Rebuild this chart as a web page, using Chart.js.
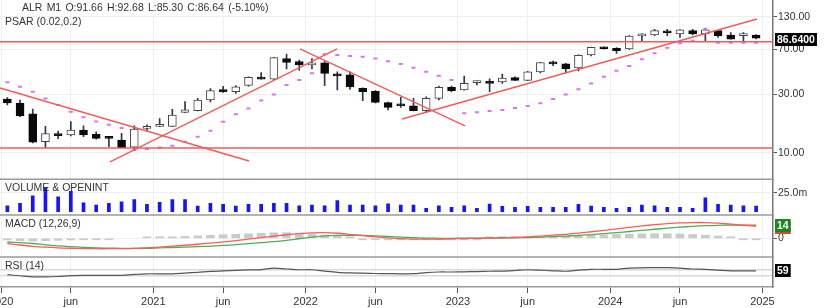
<!DOCTYPE html>
<html>
<head>
<meta charset="utf-8">
<script src="https://cdn.jsdelivr.net/npm/chart.js@4.4.1/dist/chart.umd.min.js"></script>
<style>
  html, body { margin:0; padding:0; background:#fff; }
  #wrap { width:830px; height:308px; }
</style>
</head>
<body>
<div id="wrap"><canvas id="js-alr-chart" width="830" height="308"></canvas></div>
<script>
  /* ━━━━  DATA  (monthly, Jan 2020 → Dec 2024)  ━━━━ */
  const OPENS  = [27.5,25.4,20.8,12.3,14.0,14.0,15.3,14.1,13.5,12.7, 11.1,15.8,16.4,16.4,21.4,22.1,27.0,32.6,31.6,35.6,
                  41.2,39.9,59.1,55.8,52.3,54.3,43.8,43.3,33.7,31.8, 25.7,24.4,24.2,22.1,27.8,34.3,32.6,37.5,38.4,38.0,
                  41.3,39.1,45.9,54.8,53.3,49.5,63.1,73.0,71.7,70.7, 90.3,92.0,99.0,94.0,100.0,94.0,100.0,92.0,90.9,91.66];
  const HIGHS  = [28.2,27.0,22.7,16.4,15.0,18.0,16.6,14.8,13.6,14.4, 16.6,16.9,19.0,22.6,26.2,27.8,33.5,35.0,35.5,41.8,
                  45.2,60.4,64.3,57.4,59.1,55.8,45.9,45.9,33.9,32.2, 25.9,28.4,27.8,28.7,35.1,35.1,42.3,38.8,40.3,44.0,
                  41.7,46.3,55.0,56.2,53.9,63.3,73.3,73.5,72.4,91.0, 94.5,102.5,102.5,102.0,102.5,104.5,100.5,96.5,96.5,92.68];
  const LOWS   = [24.6,19.7,12.0,11.0,13.0,13.7,13.5,12.9,11.2,11.0, 10.5,15.1,16.3,16.3,21.3,22.0,26.0,31.2,30.5,35.1,
                  39.9,39.7,48.5,47.1,48.5,35.4,32.6,33.0,26.6,25.5, 22.4,23.5,22.0,21.3,27.0,31.6,32.5,35.9,31.6,36.9,
                  38.9,38.9,45.0,51.5,45.0,46.8,62.0,70.4,65.0,70.0, 81.0,91.0,91.0,87.9,92.0,81.0,87.9,85.0,81.0,85.30];
  const CLOSES = [25.5,20.0,12.2,14.3,13.8,15.3,14.0,13.1,13.1,11.0, 15.6,16.1,16.6,20.3,22.4,27.0,32.3,31.6,34.6,41.4,
                  40.0,60.0,54.8,52.3,54.3,44.6,42.5,34.6,31.6,25.8, 23.5,24.2,22.1,27.8,34.3,32.2,36.9,38.4,36.9,40.8,
                  39.1,45.9,54.8,53.3,48.5,62.7,73.0,71.0,68.4,90.3, 94.0,99.8,96.0,101.2,94.0,101.2,90.3,85.1,91.3,86.64];
  const PSAR   = [37.7,34.6,31.6,27.8,24.6,21.6,19.5,18.0,16.9,15.9, 10.5,10.7,11.0,11.4,12.3,13.5,15.1,17.9,20.6,23.0,
                  26.8,30.0,35.8,39.4,44.7,64.0,63.1,62.0,60.9,59.1, 56.2,53.3,49.6,45.9,42.7,39.4,21.0,21.4,21.9,22.4,
                  23.2,24.1,25.4,27.5,30.0,33.1,36.9,41.9,46.9,51.3, 58.1,65.1,72.3,78.6,82.6,103.5,79.5,79.5,79.5,79.5];
  const VOLUME = [7.9,11,21,31.6,19.7,26.8,11.8,8.8,11,13, 16,9.6,12.3,16,16,7.5,11,9.6,7.5,9.6,
                  9.6,11,11,7.9,8.8,7.9,14.5,8.8,8.8,7.9, 10.5,8.8,8.8,4.4,7.9,5.7,7.9,4.4,10,7,
                  5.7,7,5.7,5.7,5.7,9.6,7.5,5.7,4.4,5.7, 8.8,7.9,5.7,5.7,4.4,18.4,9.6,8.8,7.9,7.5];   // millions
  const MACD   = [-5.8,-7.2,-8.6,-9.6,-10.3,-10.7,-11.0,-11.2,-11.2,-11.1, -10.8,-10.2,-9.4,-8.5,-7.5,-6.4,-5.2,-3.9,-2.5,-1.0,
                  0.6,2.2,3.8,5.0,5.8,6.0,5.4,4.2,2.8,1.6, 0.5,-0.3,-0.8,-1.0,-0.9,-0.6,-0.3,0.0,0.3,0.6,
                  1.0,1.6,2.4,3.3,4.3,5.5,7.0,8.6,10.2,11.8, 13.3,14.6,15.7,16.5,16.9,16.9,16.3,15.1,14.0,13.2];
  const SIGNAL = [-4.0,-4.7,-5.6,-7.0,-8.1,-8.9,-9.7,-10.3,-10.6,-10.8, -10.8,-10.7,-10.3,-9.9,-9.5,-9.0,-8.4,-7.7,-6.8,-5.8,
                  -4.7,-3.6,-2.2,-0.5,1.2,2.5,3.1,3.2,3.2,2.6, 1.9,1.2,0.6,0.2,0.0,0.0,0.1,0.2,0.2,0.3,
                  0.5,0.8,1.2,1.7,2.3,3.0,4.0,5.0,6.1,7.3, 8.5,9.7,10.8,11.9,12.8,13.5,13.9,14.1,14.1,14.0];
  const HIST   = [-1.8,-2.5,-3.0,-2.6,-2.2,-1.8,-1.3,-0.9,-0.6,null, null,0.5,0.9,1.4,2.0,2.6,3.2,3.8,4.3,4.8,
                  5.3,5.8,6.0,5.5,4.6,3.5,2.3,1.0,-0.4,-1.0, -1.4,-1.5,-1.4,-1.2,-0.9,-0.6,-0.4,-0.2,0.1,0.3,
                  0.5,0.8,1.2,1.6,2.0,2.5,3.0,3.6,4.1,4.5, 4.8,4.9,4.9,4.6,4.1,3.4,2.4,1.0,-0.1,-0.8];
  const RSI    = [34,27,20,19,22,28,30,30,30,30, 36,40,40,40,45,50,56,60,63,66,
                  68,78,72,67,67,58,50,46,44,42, 41,40,41,48,52,52,53,55,57,58,
                  62,67,64,60,57,64,70,70,70,78, 80,81,81,78,72,70,65,60,60,59];

  // hand-drawn trend lines: [month0, price0, month1, price1]
  const TREND_LINES = [[-0.08,33.9,19.54,8.55],[8.59,8.39,26.48,70.7],[23.56,70.7,36.56,16.55],[31.6,18.88,59.57,124.5]];
  const LEVELS      = [80.9, 10.93];

  const X_TICKS     = [0,5.5,12,17.5,24,29.5,36,41.5,48,53.5,60];
  const X_LABELS    = ['2020','jun','2021','jun','2022','jun','2023','jun','2024','jun','2025'];
  const PRICE_TICKS = [10,30,70,130];
  const VOL_TICKS   = [25];
  const MACD_TICKS  = [0];
  const RSI_BANDS   = [30,70];

  /* ━━━━  UTILS  ━━━━ */
  const X_MIN = -0.08, X_MAX = 60.83;
  const FONT  = "'Liberation Sans', Arial, sans-serif";
  const RED   = '#f25a5a';
  const mid   = i => i + 0.5;
  const pts   = arr => arr.map((y, i) => ({ x: mid(i), y }));
  const last  = CLOSES.length - 1;

  Chart.defaults.font.family = FONT;
  Chart.defaults.font.size = 10.5;
  Chart.defaults.color = '#333';

  function yAxis(weight, min, max, tickVals, fmt, extra = {}) {
    return {
      type: extra.type || 'linear',
      position: 'right', stack: 'panes', stackWeight: weight,
      min, max,
      grid: { color: extra.gridColor || '#efefef', lineWidth: extra.gridWidth || 1,
              tickColor: '#555', tickLength: 4, drawTicks: extra.drawTicks !== false },
      border: { display: true, color: '#777', width: 1.5 },
      ticks: { padding: 1, display: extra.showTicks !== false, callback: fmt },
      afterBuildTicks: s => { s.ticks = tickVals.map(v => ({ value: v })); },
      afterFit: s => { s.width = 57; s.paddingTop = 0; s.paddingBottom = 0; }
    };
  }

  /* ━━━━  PANES / LABELS PLUGIN  ━━━━ */
  function drawTag(ctx, text, x, y, bg, fg) {
    ctx.font = `bold 10.5px ${FONT}`;
    const w = ctx.measureText(text).width + 4;
    ctx.fillStyle = bg;
    ctx.fillRect(x, Math.round(y - 6.5), w, 13);
    ctx.fillStyle = fg;
    ctx.textBaseline = 'middle';
    ctx.textAlign = 'left';
    ctx.fillText(text, x + 2, Math.round(y - 6.5) + 7);
  }

  const panesPlugin = {
    id: 'panes',
    afterDraw(chart) {
      const { ctx, chartArea: ca, scales: s } = chart;
      ctx.save();

      /* separators */
      ctx.strokeStyle = '#9a9a9a';
      ctx.lineWidth = 1.5;
      ['yMain','yVol','yMacd'].forEach(id => {
        const y = s[id].bottom;
        ctx.beginPath(); ctx.moveTo(ca.left, y); ctx.lineTo(ca.right, y); ctx.stroke();
      });

      /* pane titles */
      ctx.font = `10.5px ${FONT}`;
      ctx.fillStyle = '#333';
      ctx.textBaseline = 'middle';
      ctx.textAlign = 'left';
      const chg = (CLOSES[last] - CLOSES[last - 1]) / CLOSES[last - 1] * 100;
      const head = ['ALR', 'M1', 'O:' + OPENS[last].toFixed(2), 'H:' + HIGHS[last].toFixed(2),
                    'L:' + LOWS[last].toFixed(2), 'C:' + CLOSES[last].toFixed(2), '(' + chg.toFixed(2) + '%)'];
      let hx = 22;
      head.forEach(t => { ctx.fillText(t, hx, 8); hx += ctx.measureText(t).width + 4.2; });
      ctx.fillText('PSAR (0.02,0.2)', 5, 22.5);
      ctx.fillText('VOLUME & OPENINT', 5, s.yVol.top + 9);
      ctx.fillText('MACD (12,26,9)', 5, s.yMacd.top + 9.5);
      ctx.fillText('RSI (14)', 5, s.yRsi.top + 9);

      /* last-value tags */
      const tx = ca.right + 2;
      drawTag(ctx, CLOSES[last].toFixed(4), tx, s.yMain.getPixelForValue(CLOSES[last]) + 1, '#000', '#fff');
      drawTag(ctx, String(Math.round(MACD[last])), tx, s.yMacd.getPixelForValue(MACD[last]) + 2, '#e0403a', '#fff');
      drawTag(ctx, String(Math.round(SIGNAL[last])), tx, s.yMacd.getPixelForValue(SIGNAL[last]), '#168a16', '#fff');
      drawTag(ctx, String(Math.round(RSI[last])), tx, s.yRsi.getPixelForValue(RSI[last]), '#000', '#fff');
      ctx.restore();
    }
  };

  /* ━━━━  DATASETS  ━━━━ */
  const isUp = i => CLOSES[i] >= OPENS[i];
  const datasets = [];

  TREND_LINES.forEach(([x0, p0, x1, p1]) => datasets.push({
    type: 'line', yAxisID: 'yMain', order: 1,
    data: [{ x: x0, y: p0 }, { x: x1, y: p1 }],
    borderColor: RED, borderWidth: 1.4, pointRadius: 0
  }));
  LEVELS.forEach(p => datasets.push({
    type: 'line', yAxisID: 'yMain', order: 1,
    data: [{ x: X_MIN, y: p }, { x: X_MAX, y: p }],
    borderColor: RED, borderWidth: 1.5, pointRadius: 0
  }));

  datasets.push({
    type: 'line', yAxisID: 'yMain', order: 2, showLine: false,
    data: pts(PSAR),
    pointStyle: 'line', pointRadius: 2, pointBorderWidth: 2,
    pointBorderColor: '#dc72f0', pointBackgroundColor: '#dc72f0'
  });
  datasets.push({
    type: 'bar', yAxisID: 'yMain', order: 3, grouped: false,
    data: OPENS.map((o, i) => ({ x: mid(i), y: [o, CLOSES[i]] })),
    backgroundColor: OPENS.map((_, i) => isUp(i) ? '#ffffff' : '#0a0a0a'),
    borderColor: OPENS.map((_, i) => isUp(i) ? '#444' : '#0a0a0a'),
    borderWidth: 1, borderSkipped: false, barThickness: 8, minBarLength: 2
  });
  datasets.push({
    type: 'bar', yAxisID: 'yMain', order: 4, grouped: false,
    data: LOWS.map((l, i) => ({ x: mid(i), y: [l, HIGHS[i]] })),
    backgroundColor: '#2d3652', borderWidth: 0, barThickness: 1
  });

  datasets.push({
    type: 'bar', yAxisID: 'yVol', order: 3, grouped: false,
    data: pts(VOLUME), backgroundColor: '#1414ff', barThickness: 3
  });

  datasets.push({
    type: 'line', yAxisID: 'yMacd', order: 1, data: pts(MACD),
    borderColor: '#ff5a5a', borderWidth: 1.3, pointRadius: 0, tension: 0.4
  });
  datasets.push({
    type: 'line', yAxisID: 'yMacd', order: 1, data: pts(SIGNAL),
    borderColor: '#4caf50', borderWidth: 1.3, pointRadius: 0, tension: 0.4
  });
  datasets.push({
    type: 'bar', yAxisID: 'yMacd', order: 3, grouped: false, data: pts(HIST),
    backgroundColor: '#cacaca', barThickness: 8, minBarLength: 1.5
  });

  datasets.push({
    type: 'line', yAxisID: 'yRsi', order: 1, data: pts(RSI),
    borderColor: '#555', borderWidth: 1.2, pointRadius: 0, tension: 0.3
  });

  /* ━━━━  CHART  ━━━━ */
  new Chart(document.getElementById('js-alr-chart'), {
    type: 'bar',
    data: { datasets },
    options: {
      responsive: false,
      animation: false,
      devicePixelRatio: 1,
      layout: { padding: 0, autoPadding: false },
      plugins: { legend: { display: false }, tooltip: { enabled: false } },
      scales: {
        x: {
          type: 'linear', min: X_MIN, max: X_MAX, offset: false,
          grid: { color: 'rgba(0,0,0,0.06)', tickColor: '#555', tickLength: 6, offset: false },
          border: { display: true, color: '#9a9a9a', width: 1.5 },
          ticks: { autoSkip: false, maxRotation: 0, padding: 2, font: { size: 11 },
                   callback: (v, i) => X_LABELS[i] },
          afterBuildTicks: s => { s.ticks = X_TICKS.map(v => ({ value: v })); },
          afterFit: s => { s.height = 21; s.paddingLeft = 0; s.paddingRight = 0; }
        },
        yMain: yAxis(179.3, 6.05, 178, PRICE_TICKS, v => Number(v).toFixed(2), { type: 'logarithmic' }),
        yVol:  yAxis(35.7, -4.3, 42.6, VOL_TICKS, v => Number(v).toFixed(1) + 'm'),
        yMacd: yAxis(42, -20.1, 25, MACD_TICKS, v => String(v)),
        yRsi:  yAxis(30, -48, 152, RSI_BANDS, () => '',
                     { gridColor: '#d9d9d9', gridWidth: 1.5, drawTicks: false, showTicks: false })
      }
    },
    plugins: [panesPlugin]
  });
</script>
</body>
</html>
